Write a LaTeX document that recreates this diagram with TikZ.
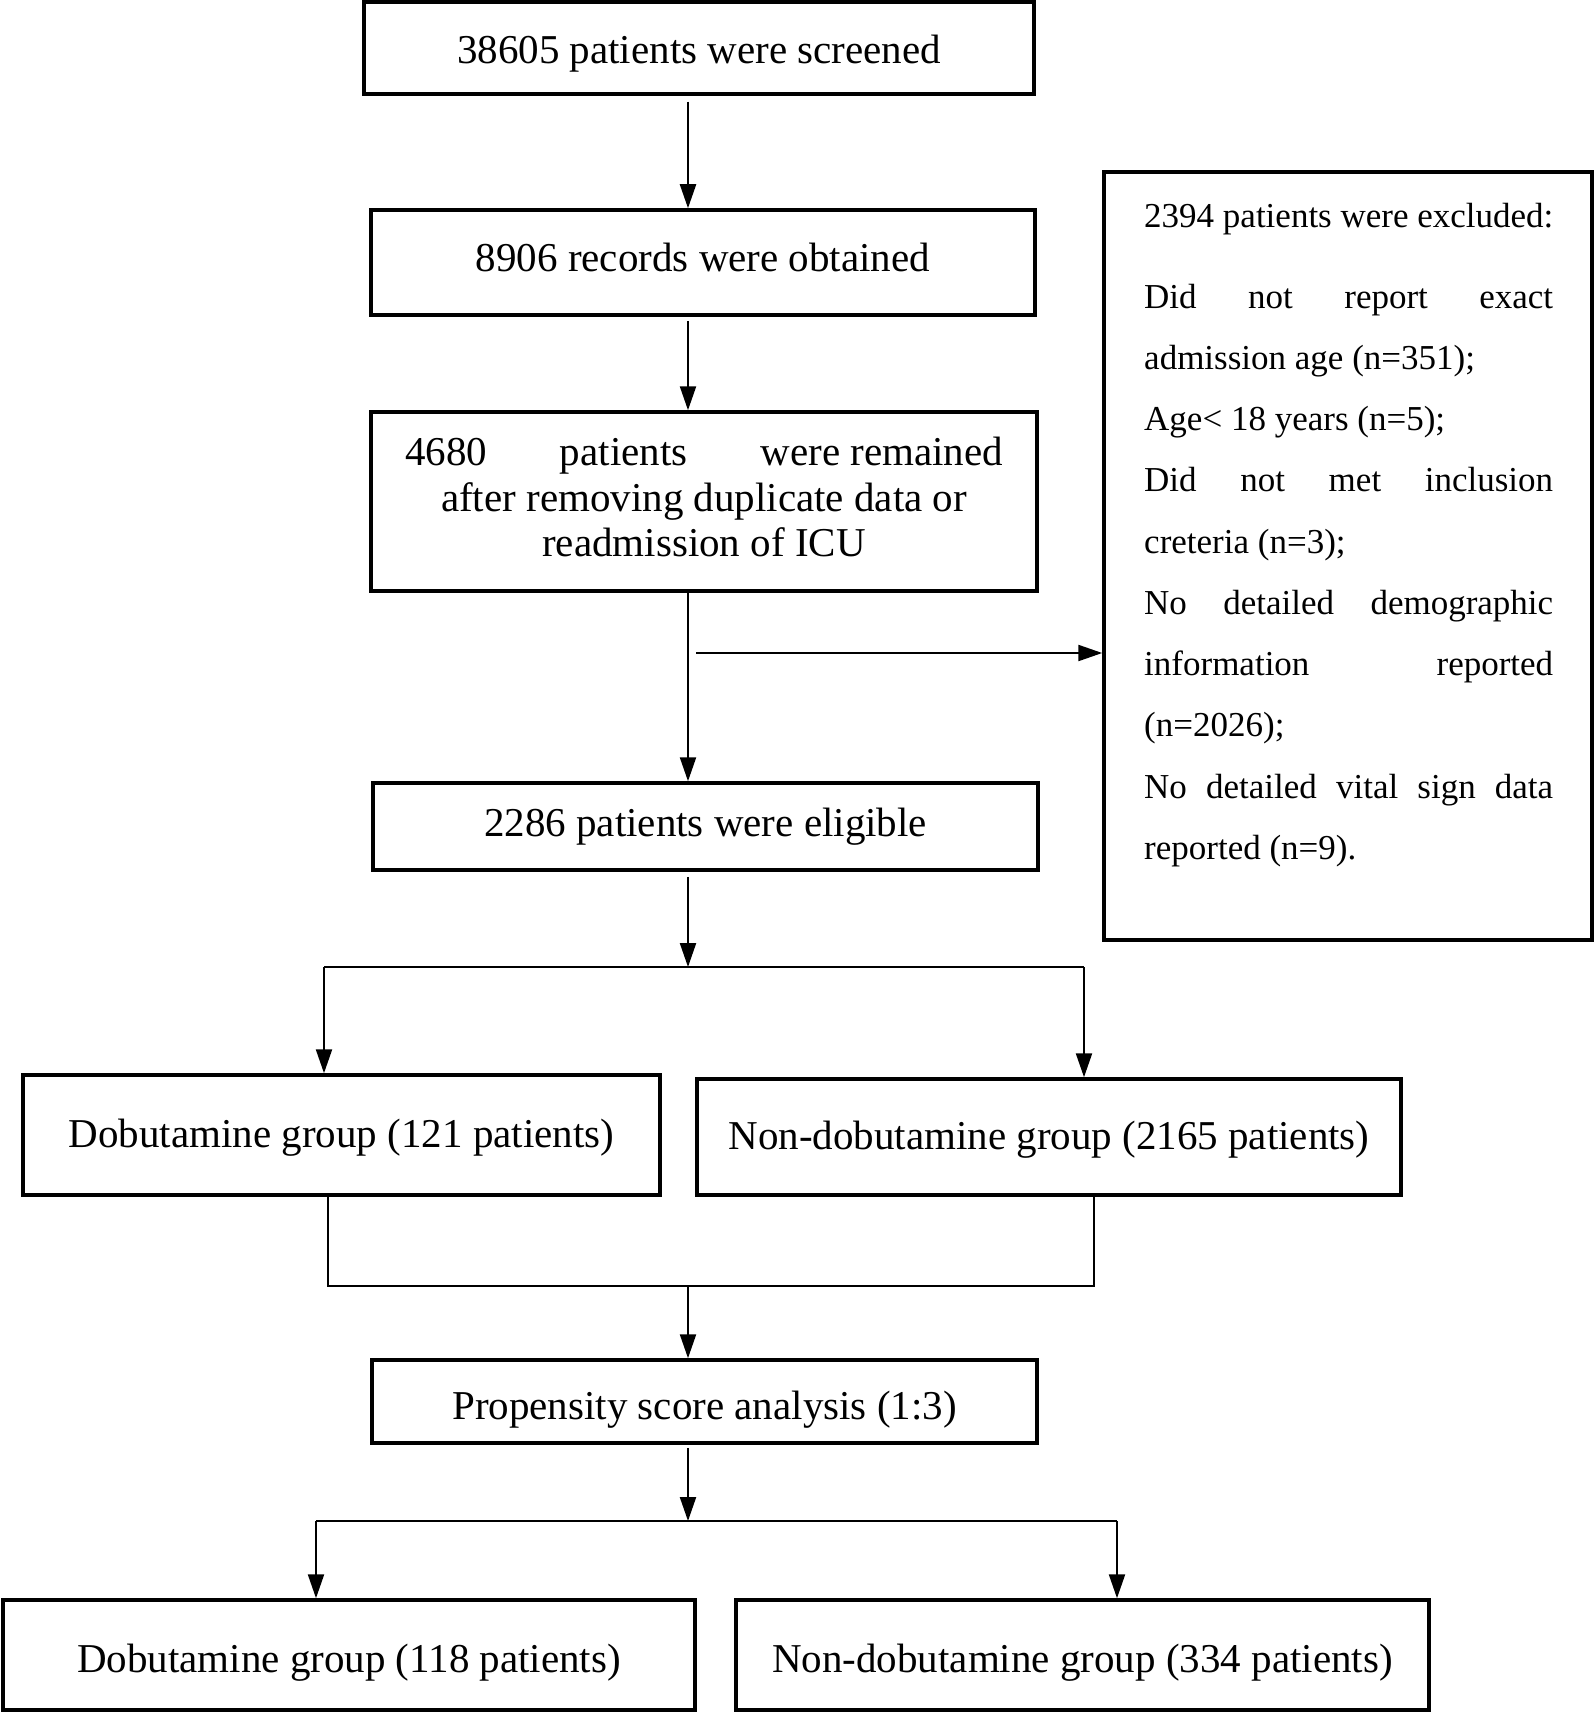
\documentclass[tikz,border=0pt]{standalone}
\usepackage{fontspec}
\setmainfont{Liberation Serif}
\usetikzlibrary{arrows.meta,calc}
\begin{document}
\begin{tikzpicture}[x=1pt,y=-1pt,
  box/.style={draw, line width=3.5pt, inner sep=0pt, align=center, font=\fontsize{41}{45.5}\selectfont},
  conn/.style={line width=2.2pt},
  arr/.style={conn, -{Triangle[length=24pt,width=16pt]}},
  exline/.style={anchor=base west, inner sep=0pt, font=\fontsize{35}{40}\selectfont}]
\useasboundingbox (0,0) rectangle (1594,1715);

\node[box, minimum width=670pt, minimum height=92pt, text height=32pt, text depth=0pt] (b1) at (699,48) {38605 patients were screened};
\node[box, minimum width=664pt, minimum height=105pt, text height=17pt, text depth=0pt] (b2) at (703,262.5) {8906 records were obtained};
\node[box, minimum width=666pt, minimum height=179pt] (b3) at (704,501.5) {\makebox[598pt][s]{4680 patients \mbox{were remained}}\\ after removing duplicate data or\\ readmission of ICU\rule[-9pt]{0pt}{9pt}};
\node[box, minimum width=665pt, minimum height=87pt] (b4) at (705.5,826.5) {2286 patients were eligible};
\node[box, minimum width=488pt, minimum height=768pt] (excl) at (1348,556) {};
\node[box, minimum width=637pt, minimum height=120pt, text height=24pt, text depth=0pt] (b5) at (341.5,1135) {Dobutamine group (121 patients)};
\node[box, minimum width=704pt, minimum height=116pt, text height=24pt, text depth=0pt] (b6) at (1049,1137) {Non-dobutamine group (2165 patients)};
\node[box, minimum width=665pt, minimum height=83pt, text height=35pt, text depth=0pt] (b7) at (704.5,1401.5) {Propensity score analysis (1:3)};
\node[box, minimum width=692pt, minimum height=110pt, text height=35pt, text depth=0pt] (b8) at (349,1655) {Dobutamine group (118 patients)};
\node[box, minimum width=693pt, minimum height=110pt, text height=35pt, text depth=0pt] (b9) at (1082.5,1655) {Non-dobutamine group (334 patients)};

% exclusion text
\node[exline] (e1) at (1144,227) {2394 patients were excluded:};
\node[exline] (e2) at (1144,308) {\makebox[409pt][s]{Did not report exact}};
\node[exline] (e3) at (1144,369) {admission age (n=351);};
\node[exline] (e4) at (1144,430) {Age< 18 years (n=5);};
\node[exline] (e5) at (1144,491) {\makebox[409pt][s]{Did not met inclusion}};
\node[exline] (e6) at (1144,553) {creteria (n=3);};
\node[exline] (e7) at (1144,614) {\makebox[409pt][s]{No detailed demographic}};
\node[exline] (e8) at (1144,675) {\makebox[409pt][s]{information reported}};
\node[exline] (e9) at (1144,736) {(n=2026);};
\node[exline] (e10) at (1144,798) {\makebox[409pt][s]{No detailed vital sign data}};
\node[exline] (e11) at (1144,859) {reported (n=9).};

% connectors
\coordinate (sp) at (688,0);
\draw[arr, shorten <=6pt] (b1.south -| sp) -- (b2.north -| sp);
\draw[arr, shorten <=4pt] (b2.south -| sp) -- (b3.north -| sp);
\draw[arr] (b3.south -| sp) -- (b4.north -| sp);
\coordinate (exb) at (696,653);
\draw[arr] (exb) -- (exb -| excl.west);

\coordinate (j1) at (688,967);
\coordinate (j1l) at (324,967);
\coordinate (j1r) at (1084,967);
\draw[arr, shorten <=5pt] (b4.south -| sp) -- (j1);
\draw[conn] (j1l) -- (j1r);
\draw[arr] (j1l) -- (j1l |- b5.north);
\draw[arr] (j1r) -- (j1r |- b6.north);

\coordinate (m1) at (328,1286);
\coordinate (m2) at (1094,1286);
\draw[conn] (b5.south -| m1) -- (m1) -- (m2) -- (b6.south -| m2);
\draw[arr] (sp |- m1) -- (b7.north -| sp);

\coordinate (j2l) at (316,1521);
\coordinate (j2r) at (1117,1521);
\draw[arr, shorten <=3pt] (b7.south -| sp) -- (sp |- j2l);
\draw[conn] (j2l) -- (j2r);
\draw[arr] (j2l) -- (j2l |- b8.north);
\draw[arr] (j2r) -- (j2r |- b9.north);
\end{tikzpicture}
\end{document}
